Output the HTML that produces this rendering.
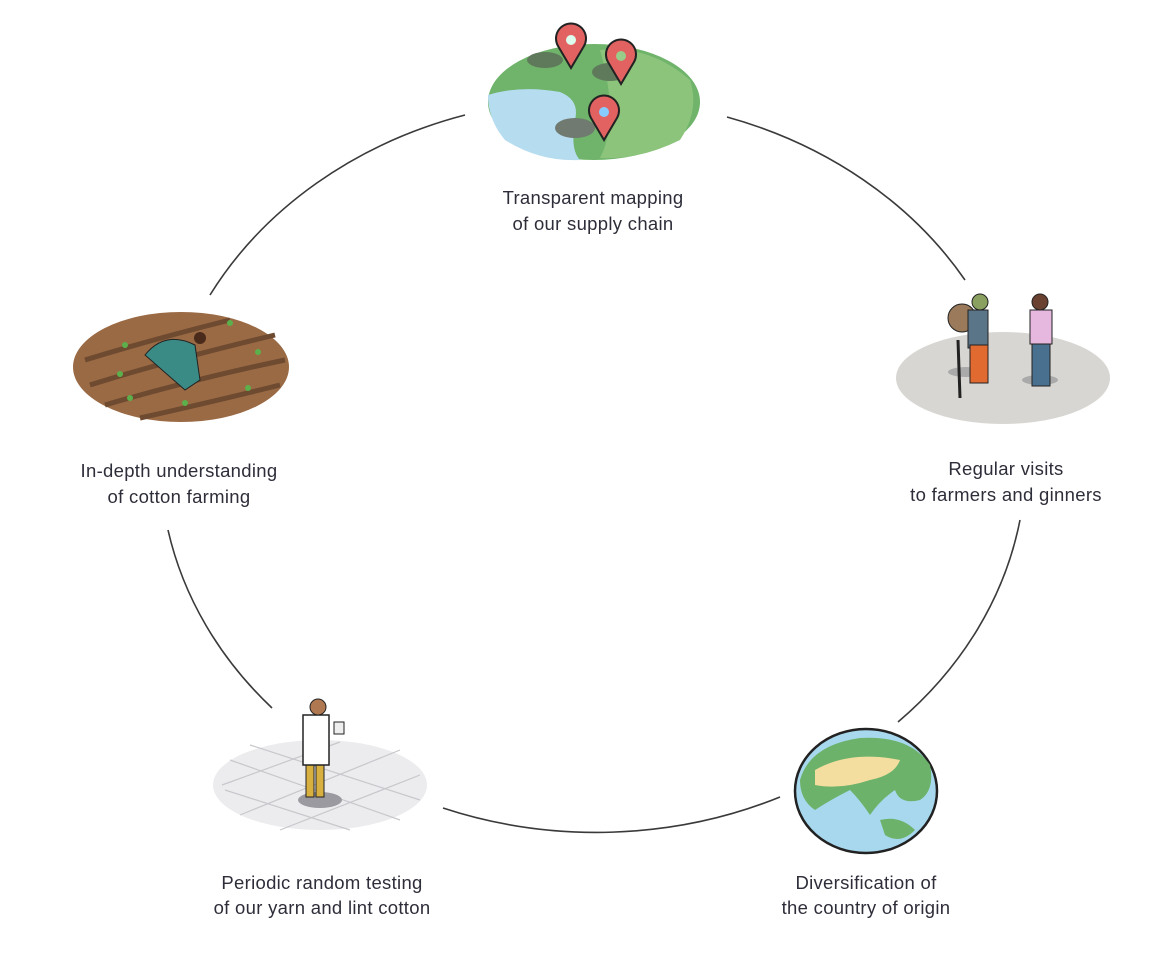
<!DOCTYPE html>
<html><head><meta charset="utf-8"><style>
html,body{margin:0;padding:0;background:#fff;width:1167px;height:969px;overflow:hidden}
svg{display:block}
text{font-family:"Liberation Sans",sans-serif;font-size:18.5px;letter-spacing:0.3px;fill:#2e2e3a;text-anchor:middle}
</style></head><body>
<svg width="1167" height="969" viewBox="0 0 1167 969" xmlns="http://www.w3.org/2000/svg">
<g fill="none" stroke="#3a3a3a" stroke-width="1.6">
<path d="M210,295 A430,370 0 0 1 465,115"/>
<path d="M727,117 A430,370 0 0 1 965,280"/>
<path d="M1020,520 A430,370 0 0 1 898,722"/>
<path d="M780,797 A430,370 0 0 1 443,808"/>
<path d="M272,708 A430,370 0 0 1 168,530"/>
</g>

<!-- top map -->
<ellipse cx="594" cy="102" rx="106" ry="58" fill="#6fb46a"/>
<path d="M488,95 Q520,85 560,92 Q580,100 575,120 Q570,150 580,160 Q540,162 505,140 Q488,120 488,95Z" fill="#b6dcf0"/>
<path d="M600,50 Q650,45 690,80 Q700,110 680,140 Q640,160 600,158 Q620,120 600,50Z" fill="#8cc47c"/>
<ellipse cx="575" cy="128" rx="20" ry="10" fill="#707a70"/>
<ellipse cx="545" cy="60" rx="18" ry="8" fill="#5f7a5a"/>
<ellipse cx="610" cy="72" rx="18" ry="9" fill="#5f7a5a"/>
<g fill="#e26262" stroke="#222" stroke-width="2">
<path d="M571,68 L558,46 A15,15 0 1 1 584,46 Z"/>
<path d="M621,84 L608,62 A15,15 0 1 1 634,62 Z"/>
<path d="M604,140 L591,118 A15,15 0 1 1 617,118 Z"/>
</g>
<circle cx="571" cy="40" r="5" fill="#dfe"/><circle cx="621" cy="56" r="5" fill="#9c8"/><circle cx="604" cy="112" r="5" fill="#8cf"/>
<text x="593" y="204">Transparent mapping</text>
<text x="593" y="230">of our supply chain</text>

<!-- right visits -->
<ellipse cx="1003" cy="378" rx="107" ry="46" fill="#d8d6d2"/>
<ellipse cx="966" cy="372" rx="18" ry="5" fill="#aaa"/>
<ellipse cx="1040" cy="380" rx="18" ry="5" fill="#aaa"/>
<circle cx="962" cy="318" r="14" fill="#9a7a5a" stroke="#222"/>
<rect x="968" y="310" width="20" height="38" fill="#5a7488" stroke="#222"/>
<rect x="970" y="345" width="18" height="38" fill="#e06a30" stroke="#222"/>
<circle cx="980" cy="302" r="8" fill="#8aa060" stroke="#222"/>
<line x1="958" y1="340" x2="960" y2="398" stroke="#222" stroke-width="3"/>
<circle cx="1040" cy="302" r="8" fill="#6a4030" stroke="#222"/>
<rect x="1030" y="310" width="22" height="34" fill="#e6b8e0" stroke="#222"/>
<rect x="1032" y="344" width="18" height="42" fill="#4a7090" stroke="#222"/>
<text x="1006" y="475">Regular visits</text>
<text x="1006" y="501">to farmers and ginners</text>

<!-- left farm -->
<ellipse cx="181" cy="367" rx="108" ry="55" fill="#9a6a45"/>
<g stroke="#6e4a30" stroke-width="5" fill="none">
<path d="M85,360 Q150,340 230,320"/><path d="M90,385 Q170,360 275,335"/><path d="M105,405 Q190,380 285,360"/><path d="M140,418 Q220,400 280,385"/>
</g>
<path d="M145,355 Q165,330 195,345 L200,380 L185,390 Z" fill="#3a8a86" stroke="#222"/>
<circle cx="200" cy="338" r="6" fill="#4a2a1a"/>
<g fill="#5cb04c"><circle cx="125" cy="345" r="3"/><circle cx="230" cy="323" r="3"/><circle cx="258" cy="352" r="3"/><circle cx="120" cy="374" r="3"/><circle cx="248" cy="388" r="3"/><circle cx="130" cy="398" r="3"/><circle cx="185" cy="403" r="3"/></g>
<text x="179" y="477">In-depth understanding</text>
<text x="179" y="503">of cotton farming</text>

<!-- bottom-left testing -->
<ellipse cx="320" cy="785" rx="107" ry="45" fill="#ececef"/>
<g stroke="#c8c8cc" stroke-width="1.2">
<line x1="230" y1="760" x2="400" y2="820"/><line x1="250" y1="745" x2="420" y2="800"/><line x1="225" y1="790" x2="350" y2="830"/>
<line x1="240" y1="815" x2="400" y2="750"/><line x1="280" y1="830" x2="420" y2="775"/><line x1="222" y1="785" x2="340" y2="742"/>
</g>
<ellipse cx="320" cy="800" rx="22" ry="8" fill="#9a9aa0"/>
<rect x="306" y="757" width="8" height="40" fill="#d8b040" stroke="#222"/><rect x="316" y="757" width="8" height="40" fill="#d8b040" stroke="#222"/>
<rect x="303" y="715" width="26" height="50" fill="#fff" stroke="#222" stroke-width="1.5"/>
<circle cx="318" cy="707" r="8" fill="#b07850" stroke="#222"/>
<rect x="334" y="722" width="10" height="12" fill="#eee" stroke="#222"/>
<text x="322" y="889">Periodic random testing</text>
<text x="322" y="914">of our yarn and lint cotton</text>

<!-- globe -->
<ellipse cx="866" cy="791" rx="71" ry="62" fill="#a8d8ee" stroke="#222" stroke-width="2.5"/>
<path d="M800,780 Q810,745 860,738 Q910,735 930,765 Q935,790 920,800 Q900,805 895,790 Q880,800 870,815 Q860,800 850,790 Q830,800 815,810 Q800,800 800,780Z" fill="#6cb26a"/>
<path d="M815,770 Q850,750 900,760 Q895,775 870,780 Q840,790 815,785Z" fill="#f3dea0"/>
<path d="M880,820 Q900,815 915,830 Q900,845 885,835Z" fill="#6cb26a"/>
<text x="866" y="889">Diversification of</text>
<text x="866" y="914">the country of origin</text>
</svg>
</body></html>
